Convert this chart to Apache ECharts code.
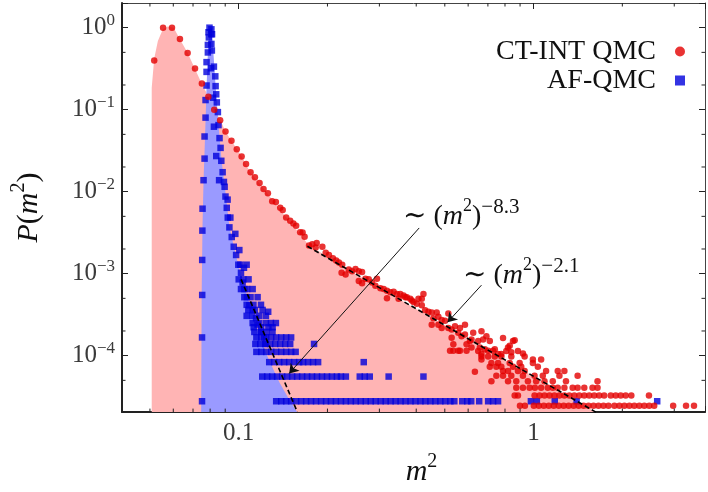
<!DOCTYPE html>
<html>
<head>
<meta charset="utf-8">
<title>P(m2)</title>
<script src="https://cdn.jsdelivr.net/npm/echarts@6.0.0/dist/echarts.min.js"></script>
<style>
  html, body { margin: 0; padding: 0; background: #fff; }
  #chart { width: 708px; height: 492px; }
</style>
</head>
<body>
<div id="chart"></div>
<script>
var FONT = "'Liberation Serif', 'DejaVu Serif', serif";
var xMin = 0.0402, xMax = 3.814;
var yMin = 2.05e-5, yMax = 2;

// CT-INT QMC: smooth part of the histogram
var ctintCurve = [
  [0.0517, 0.398], [0.0554, 1.0], [0.0594, 1.0], [0.0632, 0.726], [0.0671, 0.491],
  [0.0711, 0.317], [0.0750, 0.208], [0.0789, 0.1435], [0.0826, 0.0995], [0.0865, 0.0744],
  [0.0902, 0.0541], [0.0945, 0.0419], [0.0985, 0.0330], [0.1023, 0.0268], [0.1059, 0.0217],
  [0.1097, 0.0173], [0.1135, 0.0150], [0.1177, 0.0128], [0.1214, 0.0108], [0.1256, 0.0096],
  [0.1299, 0.00765], [0.1337, 0.00748], [0.1383, 0.00635], [0.1410, 0.00598], [0.1449, 0.00483],
  [0.1495, 0.00443], [0.1533, 0.00410], [0.1566, 0.00384], [0.1616, 0.00321], [0.1647, 0.00318],
  [0.1673, 0.00282], [0.1732, 0.00221], [0.1777, 0.00229], [0.1839, 0.00237], [0.1824, 0.00209],
  [0.1922, 0.00213], [0.1973, 0.00180], [0.2023, 0.00169], [0.2087, 0.001544], [0.2141, 0.001449],
  [0.2187, 0.001373], [0.2244, 0.001286], [0.2233, 0.001025], [0.2304, 0.000978], [0.2363, 0.001121],
  [0.2424, 0.001074], [0.2489, 0.001143], [0.2554, 0.001074], [0.2620, 0.001045], [0.2554, 0.000816],
  [0.2620, 0.000764], [0.2690, 0.000869], [0.2760, 0.000853], [0.2832, 0.000779], [0.2944, 0.000869],
  [0.2907, 0.000712], [0.3024, 0.000662], [0.3102, 0.000649], [0.3183, 0.000621], [0.3268, 0.000593],
  [0.3353, 0.000603], [0.3440, 0.000566], [0.3531, 0.000566], [0.3623, 0.000542], [0.3717, 0.000517],
  [0.3817, 0.000494], [0.4177, 0.000494], [0.4232, 0.000566], [0.3183, 0.000503], [0.3485, 0.000494],
  [0.3865, 0.000472]
];

// CT-INT QMC: scattered middle part
var ctintCloud = [
  [0.3671, 5.17e-4], [0.3916, 4.51e-4], [0.4018, 4.30e-4], [0.4071, 4.94e-4], [0.4177, 4.12e-4],
  [0.4288, 3.59e-4], [0.4400, 3.43e-4], [0.4514, 3.36e-4], [0.4693, 3.36e-4], [0.4574, 2.86e-4],
  [0.4755, 2.99e-4], [0.4879, 2.73e-4], [0.5009, 2.66e-4], [0.5140, 3.27e-4], [0.4514, 2.39e-4],
  [0.4755, 2.39e-4], [0.4879, 2.17e-4], [0.5140, 2.17e-4], [0.5274, 2.08e-4], [0.5414, 2.28e-4],
  [0.5629, 2.17e-4], [0.5852, 2.39e-4], [0.5555, 1.90e-4], [0.5699, 1.73e-4], [0.5852, 1.81e-4],
  [0.5274, 1.65e-4], [0.5344, 1.38e-4], [0.5925, 1.38e-4], [0.6083, 1.51e-4], [0.6241, 1.90e-4],
  [0.6159, 1.58e-4], [0.6488, 1.51e-4], [0.6657, 1.99e-4], [0.6920, 1.72e-4], [0.6745, 1.58e-4],
  [0.7105, 1.51e-4], [0.7878, 1.64e-4], [0.8300, 1.32e-4], [0.8516, 1.51e-4], [0.8628, 1.54e-4],
  [0.6159, 1.26e-4], [0.6574, 1.26e-4], [0.6834, 1.20e-4], [0.7012, 1.15e-4], [0.7290, 1.15e-4],
  [0.7386, 1.20e-4], [0.7578, 1.05e-4], [0.7775, 1.05e-4], [0.8191, 1.26e-4], [0.8404, 1.10e-4],
  [0.6657, 1.05e-4], [0.5344, 1.15e-4], [0.5629, 1.15e-4], [0.5208, 1.15e-4], [0.5555, 1.15e-4],
  [0.5925, 1.15e-4], [0.6324, 6.35e-5]
];

// CT-INT QMC: low-count tail (rows of equal counts)
var ctintTail = [
  [0.6488, 1.141e-4], [0.8083, 1.141e-4], [0.8852, 1.141e-4], [0.9203, 1.06e-4],
  [0.6657, 9.78e-5], [0.7012, 9.78e-5], [0.7386, 9.78e-5], [0.7775, 9.78e-5], [0.8404, 9.78e-5], [0.9325, 9.78e-5],
  [0.6657, 8.965e-5], [0.9945, 8.965e-5], [1.0608, 8.965e-5],
  [0.7194, 8.15e-5], [0.7578, 8.15e-5], [0.8300, 8.15e-5], [0.8970, 8.15e-5], [0.9945, 8.15e-5],
  [0.7105, 7.335e-5], [0.7477, 7.335e-5], [0.7775, 7.335e-5], [0.8516, 7.335e-5], [0.9082, 7.335e-5], [1.0339, 7.335e-5],
  [0.7878, 6.52e-5], [0.8191, 6.52e-5], [0.8852, 6.52e-5], [0.9325, 6.52e-5], [1.1027, 6.52e-5], [1.2076, 6.52e-5], [1.2721, 6.52e-5],
  [0.7477, 5.705e-5], [0.7878, 5.705e-5], [0.8404, 5.705e-5], [0.9203, 5.705e-5], [1.0077, 5.705e-5], [1.0748, 5.705e-5],
  [1.2237, 5.705e-5], [1.4106, 5.705e-5],
  [0.7194, 4.89e-5], [0.8191, 4.89e-5], [0.8736, 4.89e-5], [0.9567, 4.89e-5], [1.0203, 4.89e-5], [1.0891, 4.89e-5],
  [1.1617, 4.89e-5], [1.2880, 4.89e-5], [1.6476, 4.89e-5],
  [0.8736, 4.075e-5], [0.9203, 4.075e-5], [0.9694, 4.075e-5], [1.0103, 4.075e-5], [1.0608, 4.075e-5], [1.1174, 4.075e-5],
  [1.1617, 4.075e-5], [1.2076, 4.075e-5], [1.2721, 4.075e-5], [1.3568, 4.075e-5], [1.4106, 4.075e-5], [1.4859, 4.075e-5],
  [1.5849, 4.075e-5], [1.6476, 4.075e-5],
  [0.8628, 3.26e-5], [0.8852, 3.26e-5], [1.0077, 3.26e-5], [1.0477, 3.26e-5], [1.0891, 3.26e-5], [1.1323, 3.26e-5],
  [1.1770, 3.26e-5], [1.2237, 3.26e-5], [1.2721, 3.26e-5], [1.3225, 3.26e-5], [1.3749, 3.26e-5], [1.4294, 3.26e-5],
  [1.4859, 3.26e-5], [1.5448, 3.26e-5], [1.6059, 3.26e-5], [1.6695, 3.26e-5], [1.7356, 3.26e-5], [1.8270, 3.26e-5],
  [1.8992, 3.26e-5], [1.9746, 3.26e-5], [2.0527, 3.26e-5], [2.1457, 3.26e-5], [2.4623, 3.26e-5],
  [0.8992, 2.445e-5], [0.9347, 2.445e-5], [1.0022, 2.445e-5], [1.0420, 2.445e-5], [1.0833, 2.445e-5], [1.1261, 2.445e-5],
  [1.1706, 2.445e-5], [1.2170, 2.445e-5], [1.2653, 2.445e-5], [1.3153, 2.445e-5], [1.3674, 2.445e-5], [1.4216, 2.445e-5],
  [1.4780, 2.445e-5], [1.5364, 2.445e-5], [1.5971, 2.445e-5], [1.6604, 2.445e-5], [1.7264, 2.445e-5], [1.7946, 2.445e-5],
  [1.8801, 2.445e-5], [1.9549, 2.445e-5], [2.0321, 2.445e-5], [2.1129, 2.445e-5], [2.1962, 2.445e-5], [2.2834, 2.445e-5],
  [2.374, 2.445e-5], [2.468, 2.445e-5], [2.565, 2.445e-5], [2.974, 2.445e-5], [3.289, 2.445e-5], [3.500, 2.445e-5]
];

// AF-QMC: sharp peak
var afqmcPeak = [
  [0.0751, 2.78e-5], [0.0751, 1.668e-4], [0.0752, 5.5e-4], [0.0752, 1.47e-3], [0.0753, 3.35e-3],
  [0.0754, 6.2e-3], [0.0760, 0.0138], [0.0766, 0.0253], [0.0766, 0.0471], [0.0772, 0.080],
  [0.0772, 0.131], [0.0778, 0.197], [0.0778, 0.289], [0.0778, 0.380], [0.0786, 0.499],
  [0.0786, 0.616], [0.0792, 0.761], [0.0796, 1.0], [0.0808, 0.955], [0.0812, 0.832],
  [0.0790, 0.88], [0.0808, 0.634], [0.0806, 0.32], [0.0818, 0.14], [0.0824, 0.062],
  [0.0839, 0.0272], [0.0858, 0.0138],
  [0.0807, 0.833], [0.0811, 0.527], [0.0824, 0.335], [0.0833, 0.255], [0.0835, 0.1938],
  [0.0839, 0.154], [0.0843, 0.1227], [0.0850, 0.0934], [0.0854, 0.0649], [0.0861, 0.0450],
  [0.0868, 0.0342], [0.0873, 0.0238], [0.0882, 0.01728], [0.0891, 0.01315], [0.0896, 0.01147],
  [0.0902, 0.00872], [0.0911, 0.00635], [0.0918, 0.00483], [0.0930, 0.00367], [0.0947, 0.00280],
  [0.0962, 0.00213], [0.0980, 0.00169], [0.0997, 0.001286], [0.1018, 0.001025], [0.1031, 7.79e-4],
  [0.1045, 6.49e-4], [0.1066, 5.17e-4], [0.1087, 4.12e-4], [0.1115, 3.59e-4], [0.1145, 2.86e-4],
  [0.1159, 2.39e-4], [0.1190, 1.946e-4], [0.1221, 1.668e-4], [0.1237, 1.39e-4],
  [0.0917, 0.0080], [0.0937, 0.00483], [0.0974, 0.00306], [0.1005, 0.00194], [0.1042, 0.00118]
];

// AF-QMC: widening body of the decay
var afqmcBody = [
  [0.1013, 1.286e-3], [0.1064, 1.286e-3],
  [0.1000, 8.53e-4], [0.1037, 8.53e-4], [0.1080, 8.53e-4],
  [0.1018, 6.49e-4], [0.1068, 6.49e-4], [0.1115, 6.49e-4],
  [0.1045, 5.17e-4], [0.1097, 5.17e-4], [0.1159, 5.17e-4],
  [0.1064, 4.17e-4], [0.1122, 4.17e-4], [0.1190, 4.17e-4],
  [0.1078, 3.61e-4], [0.1135, 3.61e-4], [0.1205, 3.61e-4], [0.1259, 3.43e-4],
  [0.1064, 3.06e-4], [0.1113, 3.06e-4], [0.1174, 3.06e-4], [0.1237, 3.06e-4],
  [0.1115, 2.50e-4], [0.1174, 2.50e-4], [0.1237, 2.50e-4], [0.1286, 2.50e-4], [0.1337, 2.50e-4],
  [0.1124, 2.22e-4], [0.1192, 2.22e-4], [0.1261, 2.22e-4], [0.1303, 2.22e-4],
  [0.1130, 1.946e-4], [0.1190, 1.946e-4], [0.1244, 1.946e-4], [0.1302, 1.946e-4]
];

// AF-QMC: rows of 6, 5, 4, 3, 2 and 1 counts
var afqmcTail = [
  [0.1148, 1.668e-4], [0.1193, 1.668e-4], [0.1240, 1.668e-4], [0.1289, 1.668e-4], [0.1340, 1.668e-4],
  [0.1394, 1.668e-4], [0.1449, 1.668e-4], [0.1506, 1.668e-4],
  [0.1139, 1.39e-4], [0.1183, 1.39e-4], [0.1230, 1.39e-4], [0.1279, 1.39e-4], [0.1330, 1.39e-4],
  [0.1383, 1.39e-4], [0.1438, 1.39e-4], [0.1495, 1.39e-4], [0.1801, 1.39e-4],
  [0.1148, 1.112e-4], [0.1193, 1.112e-4], [0.1240, 1.112e-4], [0.1289, 1.112e-4], [0.1340, 1.112e-4],
  [0.1394, 1.112e-4], [0.1449, 1.112e-4], [0.1506, 1.112e-4], [0.1560, 1.112e-4],
  [0.1269, 8.34e-5], [0.1319, 8.34e-5], [0.1372, 8.34e-5], [0.1426, 8.34e-5], [0.1483, 8.34e-5],
  [0.1542, 8.34e-5], [0.1603, 8.34e-5], [0.1654, 8.34e-5], [0.1719, 8.34e-5], [0.1787, 8.34e-5],
  [0.1859, 8.34e-5], [0.2655, 8.34e-5],
  [0.1202, 5.56e-5], [0.1249, 5.56e-5], [0.1299, 5.56e-5], [0.1350, 5.56e-5], [0.1404, 5.56e-5],
  [0.1460, 5.56e-5], [0.1518, 5.56e-5], [0.1578, 5.56e-5], [0.1641, 5.56e-5], [0.1706, 5.56e-5],
  [0.1773, 5.56e-5], [0.1843, 5.56e-5], [0.1917, 5.56e-5], [0.1993, 5.56e-5], [0.2071, 5.56e-5],
  [0.2153, 5.56e-5], [0.2222, 5.56e-5], [0.2309, 5.56e-5], [0.2574, 5.56e-5], [0.2676, 5.56e-5],
  [0.2782, 5.56e-5], [0.3225, 5.56e-5], [0.4232, 5.56e-5],
  [0.1340, 2.78e-5], [0.1394, 2.78e-5], [0.1449, 2.78e-5], [0.1506, 2.78e-5], [0.1566, 2.78e-5],
  [0.1628, 2.78e-5], [0.1693, 2.78e-5], [0.1759, 2.78e-5], [0.1829, 2.78e-5], [0.1903, 2.78e-5],
  [0.1978, 2.78e-5], [0.2055, 2.78e-5], [0.2136, 2.78e-5], [0.2222, 2.78e-5], [0.2309, 2.78e-5],
  [0.2400, 2.78e-5], [0.2495, 2.78e-5], [0.2594, 2.78e-5], [0.2697, 2.78e-5], [0.2804, 2.78e-5],
  [0.2914, 2.78e-5], [0.3031, 2.78e-5], [0.3151, 2.78e-5], [0.3276, 2.78e-5], [0.3405, 2.78e-5],
  [0.3540, 2.78e-5], [0.3680, 2.78e-5], [0.3826, 2.78e-5], [0.3977, 2.78e-5], [0.4135, 2.78e-5],
  [0.4298, 2.78e-5], [0.4469, 2.78e-5], [0.4646, 2.78e-5], [0.4830, 2.78e-5], [0.5021, 2.78e-5],
  [0.5221, 2.78e-5], [0.5386, 2.78e-5], [0.5731, 2.78e-5], [0.5957, 2.78e-5], [0.6145, 2.78e-5],
  [0.6539, 2.78e-5], [0.7012, 2.78e-5], [0.7290, 2.78e-5], [0.7578, 2.78e-5], [0.9793, 2.78e-5],
  [1.0259, 2.78e-5], [1.1798, 2.78e-5], [1.3997, 2.78e-5], [2.626, 2.78e-5]
];

// shaded envelopes under both distributions
var ctintEnvelope = [
  [0.0507, 2.05e-5], [0.0507, 0.185], [0.0517, 0.420], [0.0532, 0.688], [0.0553, 0.955],
  [0.0575, 1.036], [0.0602, 0.995], [0.0631, 0.726], [0.0671, 0.495], [0.0709, 0.321],
  [0.0749, 0.209], [0.0790, 0.144], [0.0826, 0.1001], [0.0868, 0.0743], [0.0901, 0.0541],
  [0.0945, 0.0419], [0.1026, 0.0264], [0.1095, 0.0171], [0.1174, 0.01264], [0.1269, 0.00889],
  [0.1372, 0.00623], [0.1483, 0.00436], [0.1603, 0.00314], [0.1732, 0.00221], [0.1873, 0.00186],
  [0.2103, 0.001423], [0.2363, 0.001107], [0.2760, 8.01e-4], [0.3225, 5.82e-4], [0.3767, 4.21e-4],
  [0.4400, 3.05e-4], [0.5140, 2.22e-4], [0.6003, 1.61e-4], [0.7012, 1.165e-4], [0.8191, 8.44e-5],
  [0.9567, 6.11e-5], [1.1174, 4.44e-5], [1.3051, 3.21e-5], [1.5245, 2.33e-5], [1.626, 2.05e-5]
];
var afqmcEnvelope = [
  [0.0746, 2.05e-5], [0.0749, 5.93e-4], [0.0754, 0.00402], [0.0760, 0.0138], [0.0769, 0.0471],
  [0.0778, 0.185], [0.0787, 0.552], [0.0797, 1.008], [0.0810, 1.0], [0.0819, 0.552],
  [0.0835, 0.195], [0.0854, 0.0656], [0.0875, 0.0238], [0.0896, 0.0120], [0.0930, 0.00370],
  [0.0978, 0.00168], [0.1013, 0.001025], [0.1058, 5.93e-4], [0.1108, 3.43e-4], [0.1174, 1.73e-4],
  [0.1269, 8.74e-5], [0.1372, 4.79e-5], [0.1483, 2.93e-5], [0.1578, 2.05e-5]
];

// power-law guides and the arrows pointing at them
var fitShallow = [[0.171, 2.16e-3], [1.626, 2.05e-5]];
var fitSteep = [[0.1019, 8.53e-4], [0.1581, 2.05e-5]];
var arrowSteep = [[0.4093, 3.61e-3], [0.1483, 6.08e-5]];
var arrowShallow = [[0.6657, 7.24e-4], [0.5111, 2.56e-4]];

var xMinorTicks = [0.05, 0.06, 0.07, 0.08, 0.09, 0.2, 0.3, 0.4, 0.5, 0.6, 0.7, 0.8, 0.9, 2, 3];
var yMinorTicks = [5e-5, 2e-4, 5e-4, 2e-3, 5e-3, 0.02, 0.05, 0.2, 0.5];

var chart = echarts.init(document.getElementById('chart'));

function isDecade(v) {
  var e = Math.log10(v);
  return Math.abs(e - Math.round(e)) < 1e-6;
}
function yLabel(v) {
  if (!isDecade(v)) return '';
  var e = Math.round(Math.log10(v));
  return '{b|10}{s|' + (e < 0 ? '\u2212' + (-e) : e) + '}';
}
function xLabel(v) {
  if (!isDecade(v)) return '';
  var e = Math.round(Math.log10(v));
  return e < 0 ? v.toFixed(-e) : String(Math.round(v));
}
function tick(x1, y1, x2, y2) {
  return {
    type: 'line',
    shape: { x1: x1, y1: y1, x2: x2, y2: y2 },
    style: { stroke: '#222', lineWidth: 1 }
  };
}

var labelRich = {
  b: { fontFamily: FONT, fontSize: 25, lineHeight: 32, color: '#3a3a3a' },
  s: { fontFamily: FONT, fontSize: 17, lineHeight: 16, verticalAlign: 'top', color: '#3a3a3a' }
};
var nameRich = {
  i: { fontFamily: FONT, fontSize: 30, lineHeight: 40, fontStyle: 'italic', color: '#111' },
  n: { fontFamily: FONT, fontSize: 30, lineHeight: 40, color: '#111' },
  s: { fontFamily: FONT, fontSize: 20, lineHeight: 20, verticalAlign: 'top', color: '#111' }
};
var noteRich = {
  t: { fontFamily: FONT, fontSize: 28, lineHeight: 40, fill: '#111' },
  i: { fontFamily: FONT, fontSize: 28, lineHeight: 40, fontStyle: 'italic', fill: '#111' },
  s: { fontFamily: FONT, fontSize: 18, lineHeight: 18, verticalAlign: 'top', fill: '#111' },
  e: { fontFamily: FONT, fontSize: 21, lineHeight: 20, verticalAlign: 'top', fill: '#111' }
};

var option = {
  animation: false,
  textStyle: { fontFamily: FONT },
  grid: { left: 122, right: 0, top: 3, bottom: 69 },
  legend: {
    orient: 'vertical', right: 23, top: 37, align: 'right', padding: 0,
    itemWidth: 38, itemHeight: 10, itemGap: 0, selectedMode: false, symbolKeepAspect: true,
    textStyle: { fontFamily: FONT, fontSize: 28, lineHeight: 29, color: '#111' },
    data: [
      { name: 'CT-INT QMC', icon: 'circle' },
      { name: 'AF-QMC', icon: 'path://M0,0H10V10H0Z' }
    ]
  },
  xAxis: [{
    type: 'log', min: xMin, max: xMax, position: 'bottom',
    name: '{i|m}{s|2}', nameLocation: 'middle', nameGap: 34,
    nameTextStyle: { rich: nameRich, padding: [0, 0, 0, 16] },
    axisLine: { onZero: false, lineStyle: { color: '#222', width: 2 } },
    axisTick: { inside: true, length: 6, lineStyle: { color: '#222', width: 1 } },
    axisLabel: { formatter: xLabel, margin: 7, fontFamily: FONT, fontSize: 25, lineHeight: 28, color: '#3a3a3a' },
    splitLine: { show: false }
  }, {
    type: 'log', min: xMin, max: xMax, position: 'top',
    axisLine: { onZero: false, lineStyle: { color: '#444', width: 1 } },
    axisTick: { inside: true, length: 6, lineStyle: { color: '#222', width: 1 } },
    axisLabel: { show: false },
    splitLine: { show: false }
  }],
  yAxis: [{
    type: 'log', min: yMin, max: yMax, position: 'left',
    name: '{i|P}{n|(}{i|m}{s|2}{n|)}', nameLocation: 'middle', nameGap: 73, nameRotate: 90,
    nameTextStyle: { rich: nameRich },
    axisLine: { onZero: false, lineStyle: { color: '#222', width: 2 } },
    axisTick: { inside: true, length: 6, lineStyle: { color: '#222', width: 1 } },
    axisLabel: { formatter: yLabel, margin: 7, rich: labelRich, color: '#3a3a3a' },
    splitLine: { show: false }
  }, {
    type: 'log', min: yMin, max: yMax, position: 'right',
    axisLine: { onZero: false, lineStyle: { color: '#444', width: 1 } },
    axisTick: { inside: true, length: 6, lineStyle: { color: '#222', width: 1 } },
    axisLabel: { show: false },
    splitLine: { show: false }
  }],
  series: [
    {
      name: 'ctint-fill', type: 'line', data: ctintEnvelope, symbol: 'none', silent: true,
      lineStyle: { width: 0 }, areaStyle: { color: '#ffb4b4', opacity: 1, origin: 'start' }, z: 1
    },
    {
      name: 'afqmc-fill', type: 'line', data: afqmcEnvelope, symbol: 'none', silent: true,
      lineStyle: { width: 0 }, areaStyle: { color: '#9a9aff', opacity: 1, origin: 'start' }, z: 1
    },
    {
      name: 'AF-QMC', type: 'scatter', symbol: 'rect', symbolSize: 6.5,
      itemStyle: { color: '#0000dc' },
      data: afqmcPeak.concat(afqmcBody, afqmcTail), z: 3
    },
    {
      name: 'CT-INT QMC', type: 'scatter', symbol: 'circle', symbolSize: 6.5,
      itemStyle: { color: '#e40000' },
      data: ctintCurve.concat(ctintCloud, ctintTail), z: 4
    },
    {
      name: 'fit-shallow', type: 'line', data: fitShallow, symbol: 'none', silent: true, z: 5,
      lineStyle: { color: '#000', width: 1.6, type: [5, 3] }
    },
    {
      name: 'fit-steep', type: 'line', data: fitSteep, symbol: 'none', silent: true, z: 5,
      lineStyle: { color: '#000', width: 1.6, type: [5, 3] },
      markLine: {
        silent: true, animation: false, symbol: ['none', 'arrow'], symbolSize: 9,
        label: { show: false },
        lineStyle: { color: '#111', width: 1, type: 'solid' },
        data: [
          [{ coord: arrowSteep[0] }, { coord: arrowSteep[1] }],
          [{ coord: arrowShallow[0] }, { coord: arrowShallow[1] }]
        ]
      }
    },
    {
      name: 'minor-ticks', type: 'custom', data: [[1, 1]], silent: true, z: 6,
      renderItem: function (params, api) {
        var cs = params.coordSys;
        var left = cs.x, right = cs.x + cs.width, top = cs.y, bottom = cs.y + cs.height;
        var kids = [];
        xMinorTicks.forEach(function (v) {
          var px = api.coord([v, yMin])[0];
          kids.push(tick(px, bottom, px, bottom - 3.5));
          kids.push(tick(px, top, px, top + 3.5));
        });
        yMinorTicks.forEach(function (v) {
          var py = api.coord([xMin, v])[1];
          kids.push(tick(left, py, left + 3.5, py));
          kids.push(tick(right, py, right - 3.5, py));
        });
        return { type: 'group', children: kids };
      }
    }
  ],
  graphic: [
    {
      type: 'text', x: 403, y: 217, silent: true, z: 10,
      style: { text: '{t|\u223c (}{i|m}{s|2}{t|)}{e|\u22128.3}', rich: noteRich, verticalAlign: 'middle', align: 'left' }
    },
    {
      type: 'text', x: 463, y: 276, silent: true, z: 10,
      style: { text: '{t|\u223c (}{i|m}{s|2}{t|)}{e|\u22122.1}', rich: noteRich, verticalAlign: 'middle', align: 'left' }
    }
  ]
};

chart.setOption(option);
</script>
</body>
</html>
